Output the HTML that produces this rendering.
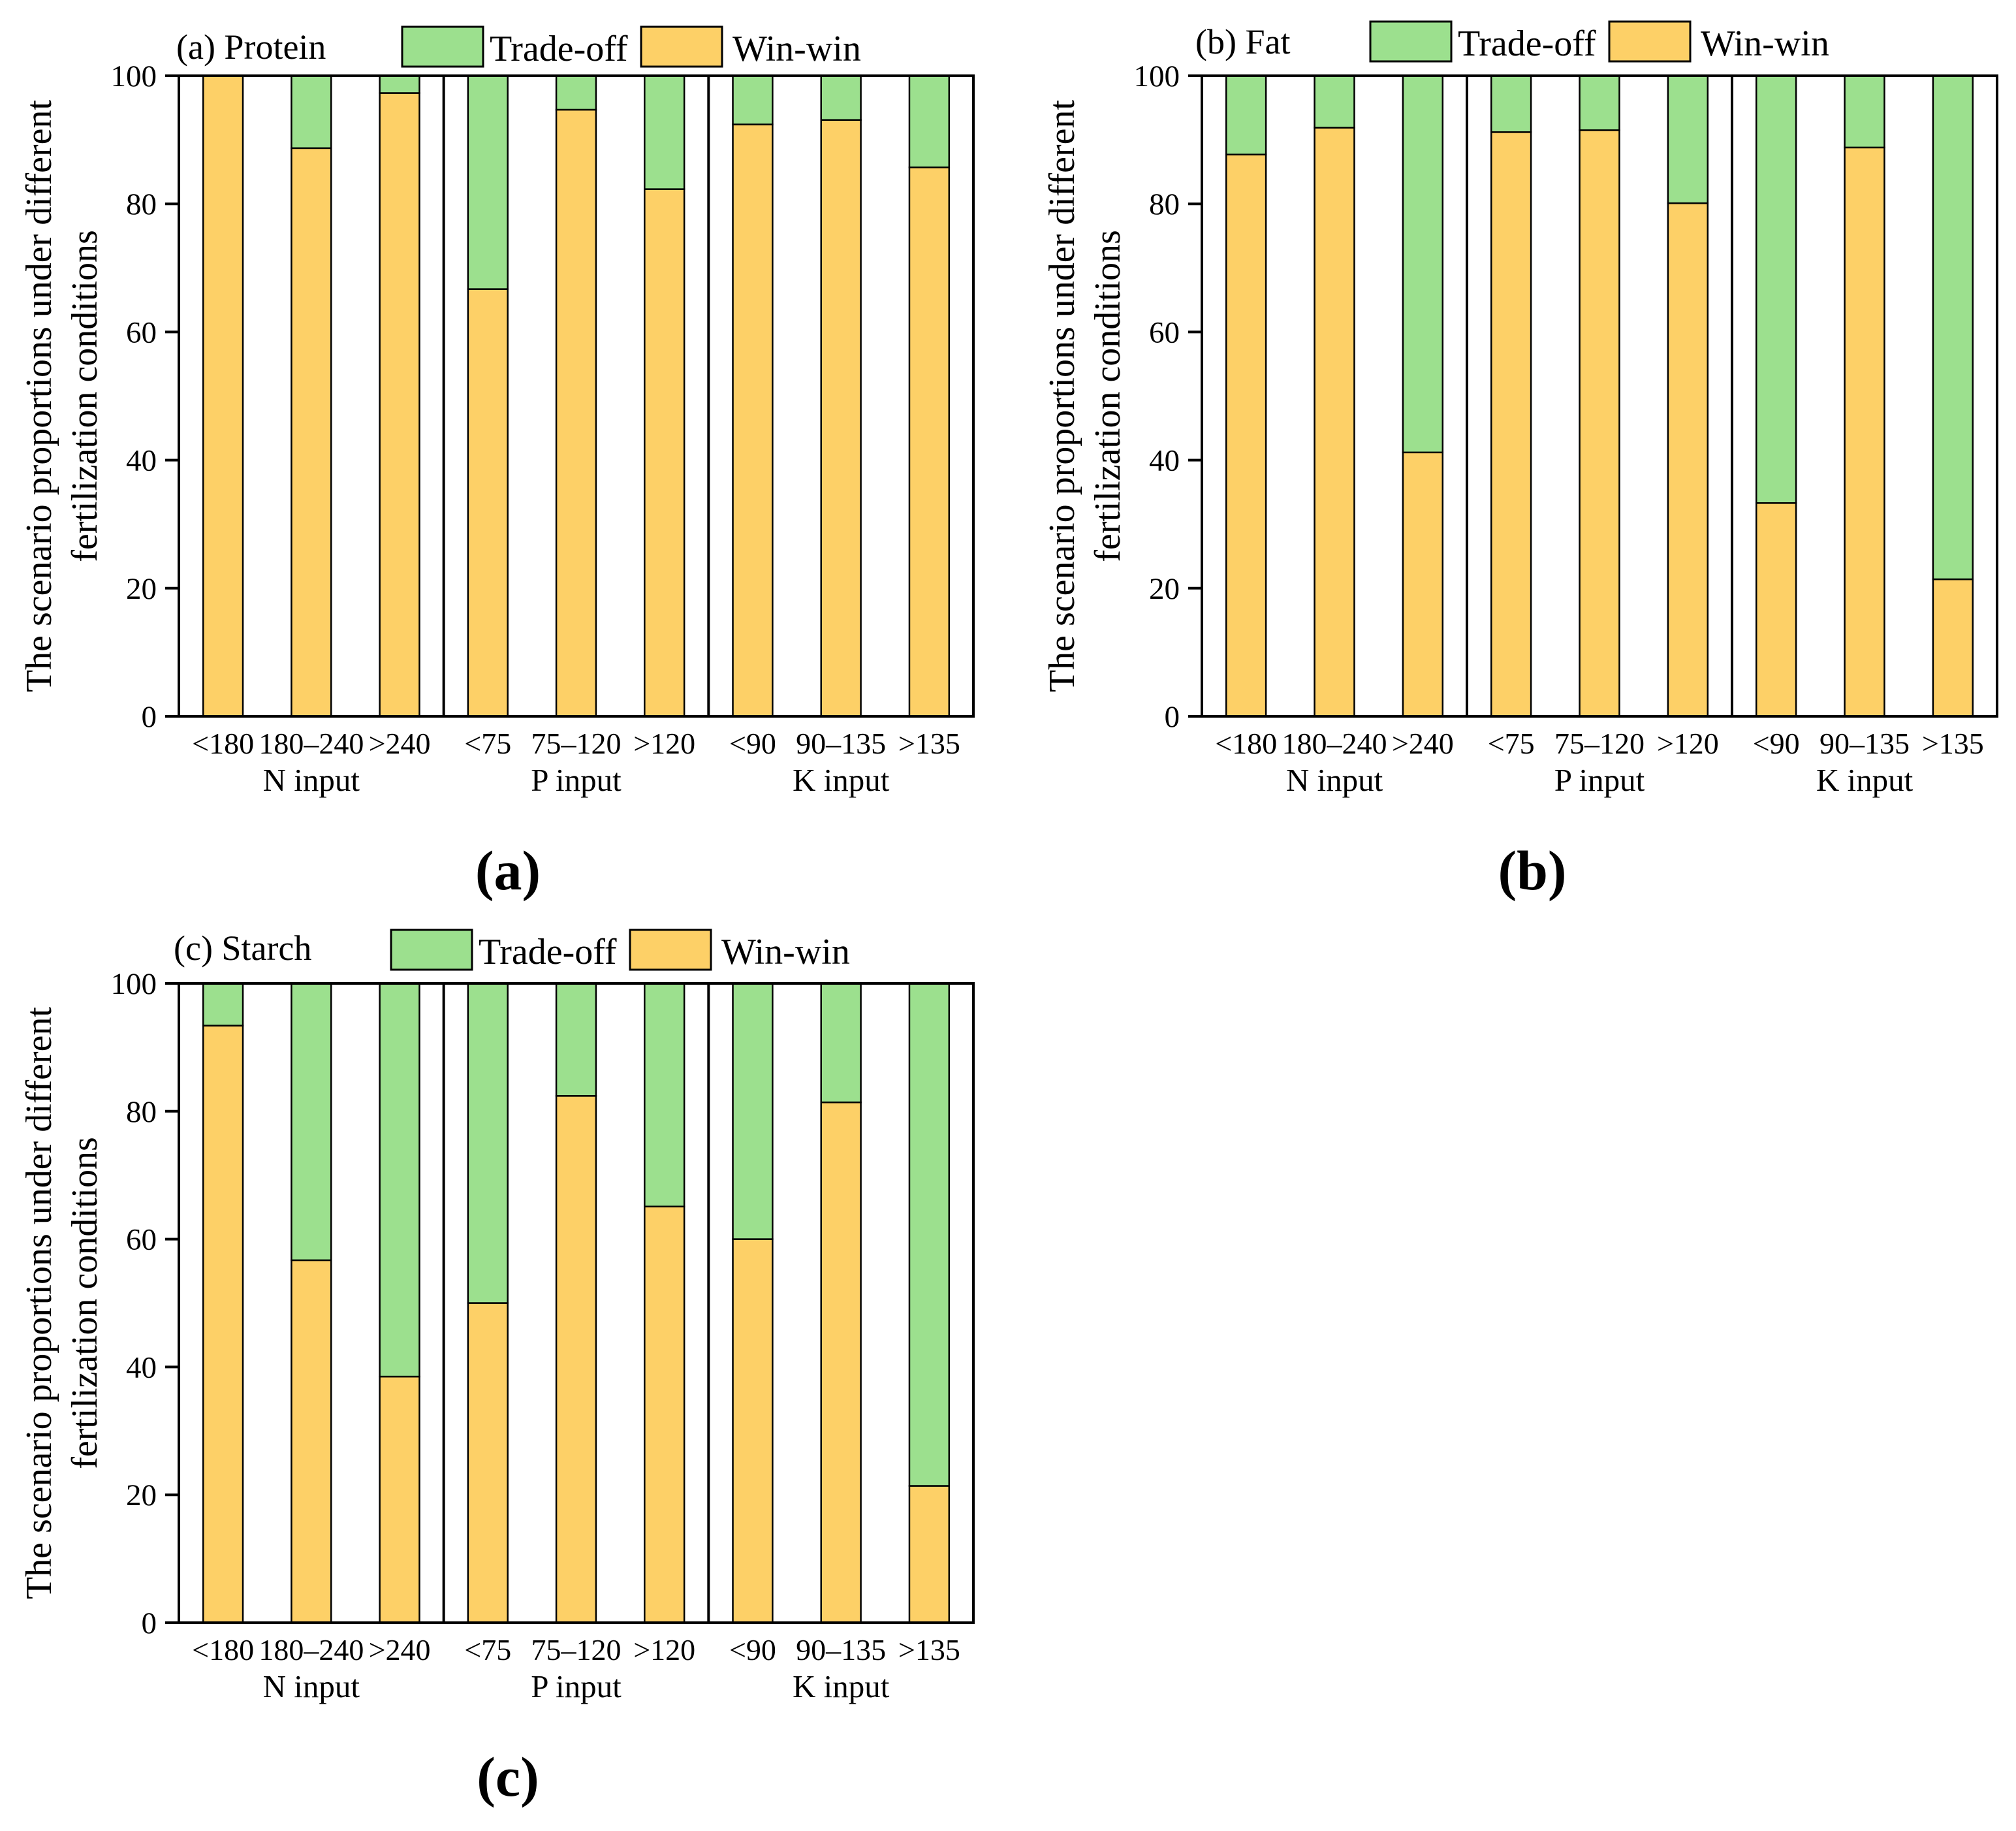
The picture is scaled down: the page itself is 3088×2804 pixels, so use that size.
<!DOCTYPE html>
<html><head><meta charset="utf-8"><style>
html,body{margin:0;padding:0;background:#fff}
svg{display:block}
text{font-family:"Liberation Serif",serif;fill:#000}
</style></head><body>
<svg id="fig" width="3088" height="2804" viewBox="0 0 3088 2804" xmlns="http://www.w3.org/2000/svg"></svg>
<script>
const categories = ["<180","180–240",">240","<75","75–120",">120","<90","90–135",">135"];
const groups = ["N input","P input","K input"];
const yTicks = [0,20,40,60,80,100];
const winA = [100,88.7,97.3,66.7,94.7,82.3,92.4,93.1,85.7];
const tradeA = [0,11.3,2.7,33.3,5.3,17.7,7.6,6.9,14.3];
const winB = [87.7,91.9,41.2,91.2,91.5,80.1,33.3,88.8,21.4];
const tradeB = [12.3,8.1,58.8,8.8,8.5,19.9,66.7,11.2,78.6];
const winC = [93.4,56.7,38.5,50,82.4,65.1,60,81.4,21.4];
const tradeC = [6.6,43.3,61.5,50,17.6,34.9,40,18.6,78.6];

const NS="http://www.w3.org/2000/svg";
const svg=document.getElementById('fig');
function mk(tag,attrs,parent,txt){const e=document.createElementNS(NS,tag);for(const k in attrs)e.setAttribute(k,attrs[k]);if(txt!==undefined)e.textContent=txt;(parent||svg).appendChild(e);return e;}

const panels=[
 {id:'a',title:'(a) Protein',win:winA,trade:tradeA,L:274,R:1491,T:116,B:1097,tx:270,ty:90,lx:616,ly:41,cx:778,cy:1362},
 {id:'b',title:'(b) Fat',win:winB,trade:tradeB,L:1841,R:3059,T:116,B:1097,tx:1831,ty:82,lx:2099,ly:33,cx:2347,cy:1362},
 {id:'c',title:'(c) Starch',win:winC,trade:tradeC,L:274,R:1491,T:1506,B:2485,tx:266,ty:1470,lx:599,ly:1424,cx:778,cy:2750}
];
panels.forEach(p=>{
 const g=mk('g',{});
 
 
 const n=categories.length, slot=(p.R-p.L)/n, bw=slot*0.45;
 const y=v=>p.B-(v/100)*(p.B-p.T);
 const x=i=>p.L+slot*(i+0.5);
 for(let i=0;i<n;i++){
  const w=mk('rect',{x:x(i)-bw/2,y:y(p.win[i]),width:bw,height:p.B-y(p.win[i]),fill:'#fdd067',stroke:'#000','stroke-width':2.5},g);
  
  
  if(p.trade[i]>0){
   const t=mk('rect',{x:x(i)-bw/2,y:y(p.win[i]+p.trade[i]),width:bw,height:y(p.win[i])-y(p.win[i]+p.trade[i]),fill:'#9ce08e',stroke:'#000','stroke-width':2.5},g);
   
   
  }
 }
 const fr=mk('rect',{x:p.L,y:p.T,width:p.R-p.L,height:p.B-p.T,fill:'none',stroke:'#000','stroke-width':4},g);
 
 
 for(let s=1;s<3;s++){
  const xs=p.L+slot*3*s;
  const l=mk('line',{x1:xs,x2:xs,y1:p.T,y2:p.B,stroke:'#000','stroke-width':4},g);
  
  
 }
 yTicks.forEach(v=>{
  mk('line',{x1:p.L-21,x2:p.L,y1:y(v),y2:y(v),stroke:'#000','stroke-width':4},g);
  const t=mk('text',{x:p.L-34,y:y(v)+16,'text-anchor':'end','font-size':47},g,String(v));
  
  
 });
 categories.forEach((c,i)=>{
  const t=mk('text',{x:x(i),y:p.B+57,'text-anchor':'middle','font-size':46},g,c);
  
  
 });
 groups.forEach((gname,k)=>{
  const t=mk('text',{x:p.L+slot*(3*k+1.5),y:p.B+114,'text-anchor':'middle','font-size':49},g,gname);
  
  
 });
 const yt=mk('text',{transform:`translate(${p.L-196},${(p.T+p.B)/2}) rotate(-90)`,'text-anchor':'middle','font-size':56},g);
 
 
 mk('tspan',{x:0,y:0},yt,'The scenario proportions under different');
 mk('tspan',{x:0,y:70},yt,'fertilization conditions');
 const tt=mk('text',{x:p.tx,y:p.ty,'font-size':54},g,p.title);
 
 
 const lg=mk('g',{},g);
 
 
 const e1=mk('rect',{x:p.lx,y:p.ly,width:124,height:61,fill:'#9ce08e',stroke:'#000','stroke-width':3},lg);
 
 
 const l1=mk('text',{x:p.lx+134,y:p.ly+52,'font-size':56},lg,'Trade-off');
 
 
 const e2=mk('rect',{x:p.lx+366,y:p.ly,width:124,height:61,fill:'#fdd067',stroke:'#000','stroke-width':3},lg);
 
 
 const l2=mk('text',{x:p.lx+506,y:p.ly+52,'font-size':56},lg,'Win-win');
 
 
 const cap=mk('text',{x:p.cx,y:p.cy,'text-anchor':'middle','font-size':86,'font-weight':'bold'},g,'('+p.id+')');
 
 
});
</script>
</body></html>
